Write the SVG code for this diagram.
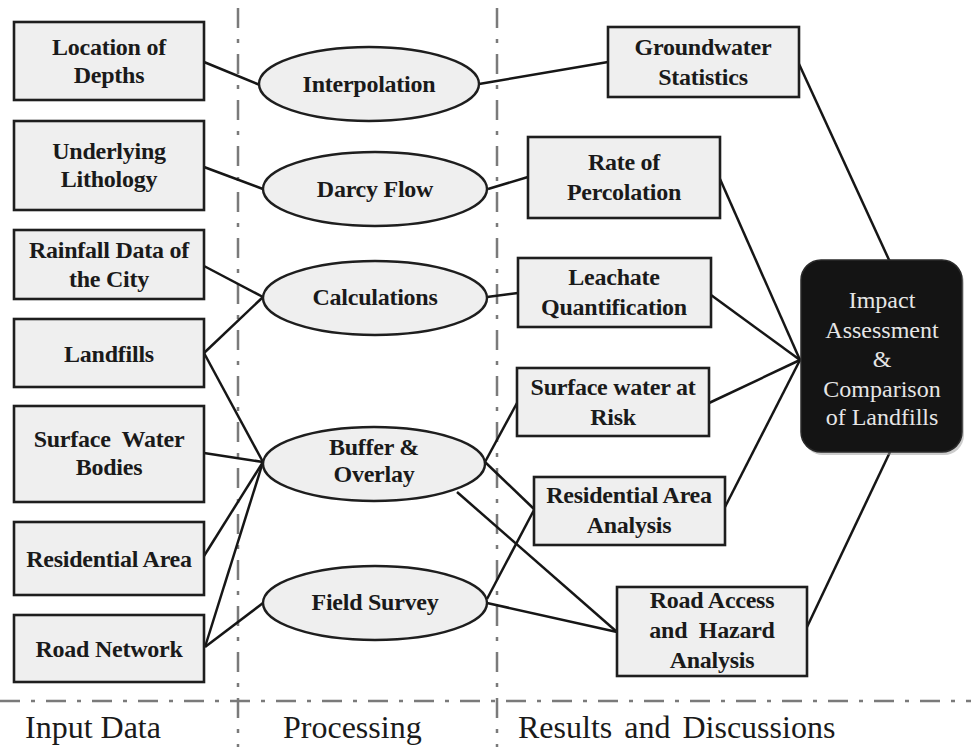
<svg xmlns="http://www.w3.org/2000/svg" width="971" height="747" viewBox="0 0 971 747">
<style>
.box{fill:#efefef;stroke:#1e1e1e;stroke-width:2.6}
.ell{fill:#efefef;stroke:#1e1e1e;stroke-width:2.4}
.lbl{font-family:"Liberation Serif","Times New Roman",serif;font-weight:bold;font-size:24px;letter-spacing:-0.25px;fill:#1a1a1a;text-anchor:middle;white-space:pre}
.big{font-family:"Liberation Serif","Times New Roman",serif;font-size:32px;fill:#1a1a1a;white-space:pre}
.imp{font-family:"Liberation Serif","Times New Roman",serif;font-size:24px;fill:#e6e6e6;text-anchor:middle}
.sep{stroke:#7a7a7a;stroke-width:2.5;fill:none;stroke-dasharray:20 11 4 11}
.con line{stroke:#161616;stroke-width:2.5}
</style>
<rect width="971" height="747" fill="#ffffff"/>
<g id="separators">
<line class="sep" x1="238" y1="8" x2="238" y2="747"/>
<line class="sep" x1="497" y1="8" x2="497" y2="747"/>
<line class="sep" x1="0" y1="701" x2="971" y2="701"/>
</g>
<g id="connectors" class="con">
<line x1="204" y1="62" x2="260" y2="85"/>
<line x1="204" y1="167" x2="263" y2="189"/>
<line x1="204" y1="266" x2="263" y2="297"/>
<line x1="204" y1="353" x2="263" y2="297"/>
<line x1="204" y1="353" x2="263" y2="462"/>
<line x1="204" y1="453" x2="263" y2="462"/>
<line x1="204" y1="556" x2="263" y2="462"/>
<line x1="205" y1="647" x2="263" y2="462"/>
<line x1="205" y1="647" x2="263" y2="603"/>
<line x1="479" y1="84" x2="608" y2="62"/>
<line x1="488" y1="189" x2="528" y2="177"/>
<line x1="487" y1="297" x2="518" y2="293"/>
<line x1="485" y1="462" x2="517" y2="403"/>
<line x1="485" y1="462" x2="534" y2="509"/>
<line x1="457" y1="492" x2="617" y2="632"/>
<line x1="487" y1="599" x2="534" y2="510"/>
<line x1="487" y1="603" x2="617" y2="632"/>
<line x1="799" y1="64" x2="890" y2="262"/>
<line x1="720" y1="179" x2="800" y2="360"/>
<line x1="711" y1="295" x2="800" y2="360"/>
<line x1="709" y1="403" x2="800" y2="360"/>
<line x1="725" y1="507" x2="800" y2="360"/>
<line x1="807" y1="627" x2="890" y2="452"/>
</g>
<g id="n-location">
<rect class="box" x="14" y="22" width="190" height="78"/>
<text class="lbl" x="109" y="55">Location of</text>
<text class="lbl" x="109" y="83">Depths</text>
</g>
<g id="n-lithology">
<rect class="box" x="14" y="121" width="190" height="89"/>
<text class="lbl" x="109" y="159">Underlying</text>
<text class="lbl" x="109" y="187">Lithology</text>
</g>
<g id="n-rainfall">
<rect class="box" x="14" y="230" width="190" height="69"/>
<text class="lbl" x="109" y="258">Rainfall Data of</text>
<text class="lbl" x="109" y="287">the City</text>
</g>
<g id="n-landfills">
<rect class="box" x="14" y="319" width="190" height="68"/>
<text class="lbl" x="109" y="362">Landfills</text>
</g>
<g id="n-surfacewater">
<rect class="box" x="14" y="406" width="190" height="96"/>
<text class="lbl" x="109" y="447">Surface  Water</text>
<text class="lbl" x="109" y="475">Bodies</text>
</g>
<g id="n-residential">
<rect class="box" x="14" y="522" width="190" height="73"/>
<text class="lbl" x="109" y="567">Residential Area</text>
</g>
<g id="n-road">
<rect class="box" x="14" y="615" width="190" height="67"/>
<text class="lbl" x="109" y="657">Road Network</text>
</g>
<g id="p-interpolation">
<ellipse class="ell" cx="369" cy="84" rx="110" ry="37"/>
<text class="lbl" x="369" y="92">Interpolation</text>
</g>
<g id="p-darcy">
<ellipse class="ell" cx="375" cy="189" rx="112" ry="37"/>
<text class="lbl" x="375" y="197">Darcy Flow</text>
</g>
<g id="p-calculations">
<ellipse class="ell" cx="375" cy="298" rx="112" ry="37"/>
<text class="lbl" x="375" y="305">Calculations</text>
</g>
<g id="p-buffer">
<ellipse class="ell" cx="374" cy="464" rx="111" ry="37"/>
<text class="lbl" x="374" y="455">Buffer &amp;</text>
<text class="lbl" x="374" y="482">Overlay</text>
</g>
<g id="p-field">
<ellipse class="ell" cx="375" cy="603" rx="112" ry="37"/>
<text class="lbl" x="375" y="610">Field Survey</text>
</g>
<g id="r-groundwater">
<rect class="box" x="608" y="27" width="191" height="70"/>
<text class="lbl" x="703" y="55">Groundwater</text>
<text class="lbl" x="703" y="85">Statistics</text>
</g>
<g id="r-percolation">
<rect class="box" x="528" y="137" width="192" height="81"/>
<text class="lbl" x="624" y="170">Rate of</text>
<text class="lbl" x="624" y="200">Percolation</text>
</g>
<g id="r-leachate">
<rect class="box" x="518" y="258" width="193" height="69"/>
<text class="lbl" x="614" y="285">Leachate</text>
<text class="lbl" x="614" y="315">Quantification</text>
</g>
<g id="r-surfacerisk">
<rect class="box" x="517" y="368" width="192" height="68"/>
<text class="lbl" x="613" y="395" letter-spacing="-0.8">Surface water at</text>
<text class="lbl" x="613" y="425">Risk</text>
</g>
<g id="r-residential">
<rect class="box" x="534" y="477" width="191" height="68"/>
<text class="lbl" x="629" y="503">Residential Area</text>
<text class="lbl" x="629" y="533">Analysis</text>
</g>
<g id="r-road">
<rect class="box" x="617" y="587" width="190" height="89"/>
<text class="lbl" x="712" y="608">Road Access</text>
<text class="lbl" x="712" y="638">and  Hazard</text>
<text class="lbl" x="712" y="668">Analysis</text>
</g>
<g id="impact">
<rect x="803" y="263" width="161" height="192" rx="20" fill="#9a9a9a" opacity="0.5"/>
<rect x="801" y="260" width="161" height="192" rx="20" fill="#141414" stroke="#2a2a2a" stroke-width="1.5"/>
<text class="imp" x="882" y="308">Impact</text>
<text class="imp" x="882" y="338">Assessment</text>
<text class="imp" x="882" y="367">&amp;</text>
<text class="imp" x="882" y="397">Comparison</text>
<text class="imp" x="882" y="425">of Landfills</text>
</g>
<g id="column-labels">
<text class="big" x="25" y="738">Input Data</text>
<text class="big" x="283" y="738">Processing</text>
<text class="big" x="518" y="738" word-spacing="4">Results and Discussions</text>
</g>
</svg>
